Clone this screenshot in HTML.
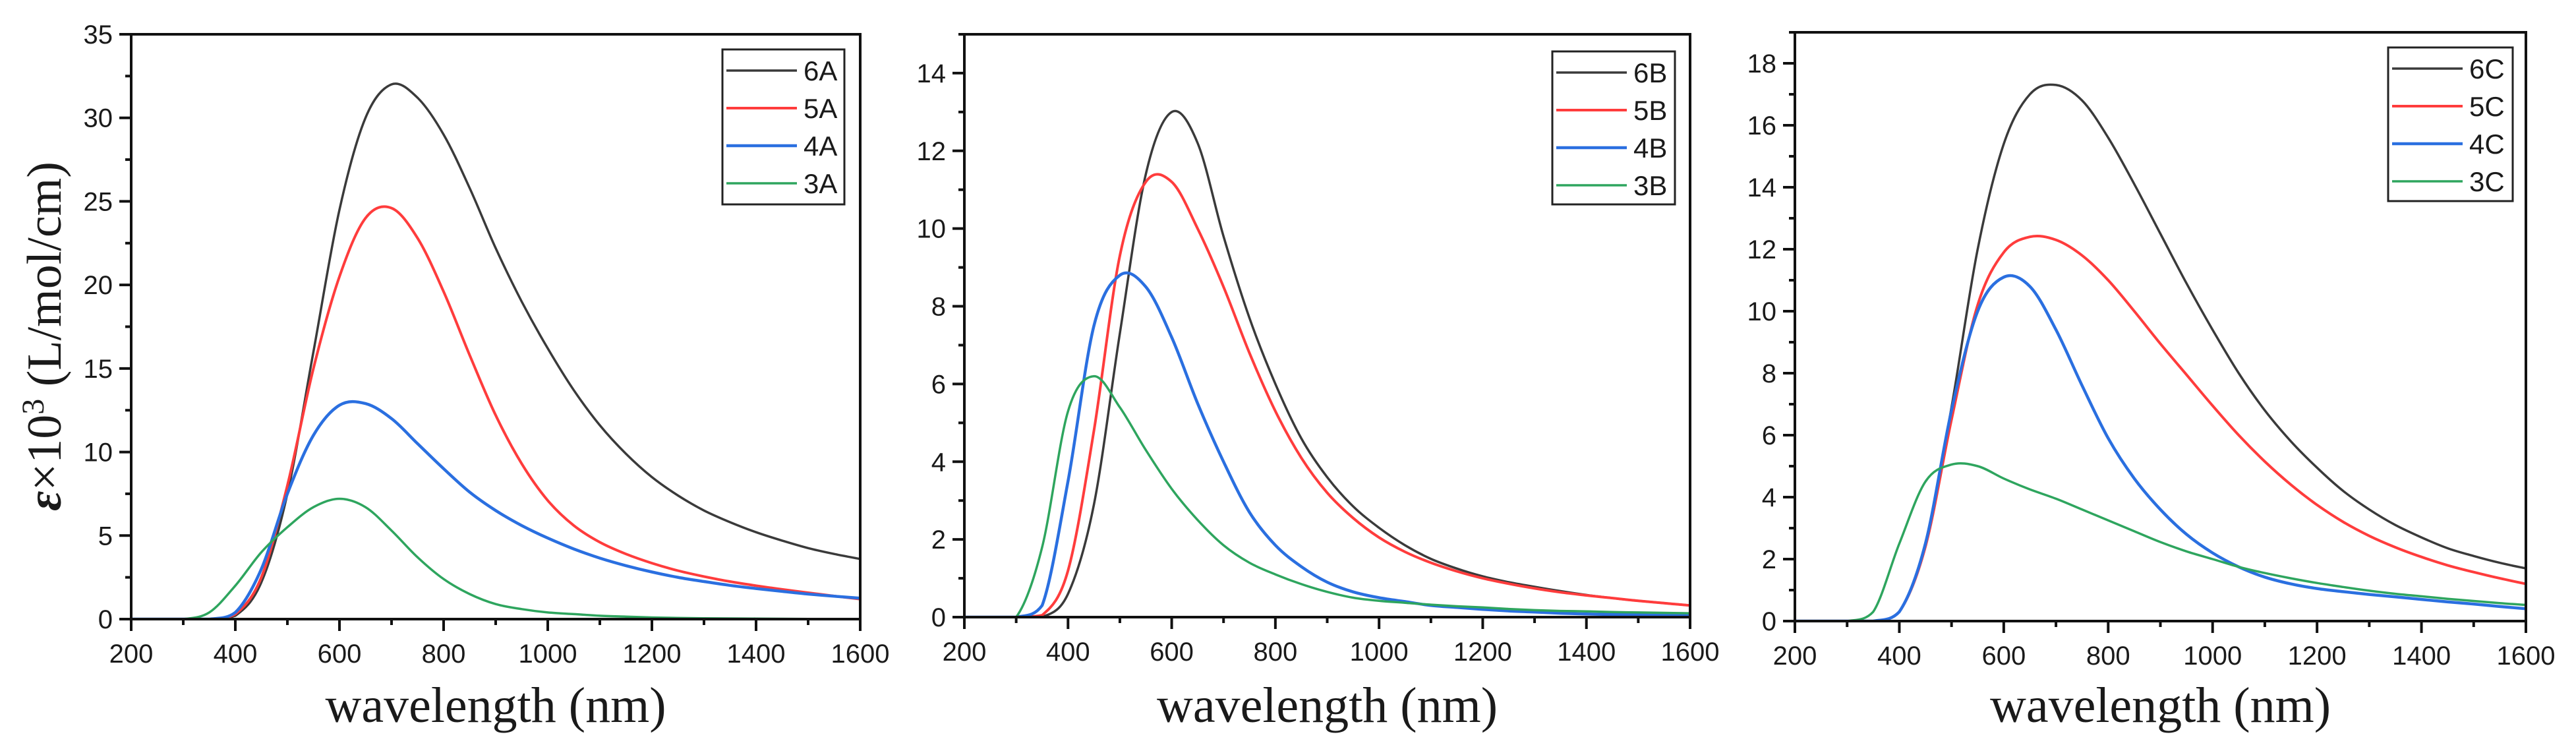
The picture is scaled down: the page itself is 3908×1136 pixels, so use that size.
<!DOCTYPE html>
<html><head><meta charset="utf-8"><style>
html,body{margin:0;padding:0;background:#fff;}
svg{display:block;}
text{font-family:"Liberation Sans",sans-serif;fill:#1a1a1a;}
.serif{font-family:"Liberation Serif",serif;}
</style></head><body>
<svg id="chart" width="3908" height="1136" viewBox="0 0 3908 1136" xmlns="http://www.w3.org/2000/svg">
<text class="serif" transform="translate(92,510) rotate(-90)" text-anchor="middle" font-size="74"><tspan font-style="italic" font-weight="bold">ε</tspan>×10<tspan dy="-26" font-size="48">3</tspan><tspan dy="26"> (L/mol/cm)</tspan></text>
</svg>
<script>
const wavelengths = [200,250,300,350,400,450,500,550,600,650,700,750,800,850,900,950,1000,1050,1100,1150,1200,1250,1300,1350,1400,1450,1500,1550,1600];
const xTicks = [200,400,600,800,1000,1200,1400,1600];
const seriesNames = ['6','5','4','3'];
const colors = ['#3a3a3a','#ff3c3c','#2a6fe0','#2ea55e'];
const widths = [3.5,4,4.5,3.5];
// Panel A
const a6 = [0,0,0,0,0.2,2.2,7.5,16,24.5,30,32,31.2,29,25.8,22.2,19,16.2,13.7,11.6,9.9,8.5,7.4,6.5,5.8,5.2,4.7,4.25,3.9,3.6];
const a5 = [0,0,0,0,0.3,2.5,8,15,20.5,24,24.6,22.8,19.6,15.8,12.2,9.3,7.1,5.6,4.6,3.9,3.35,2.9,2.55,2.25,2.0,1.78,1.58,1.38,1.2];
const a4 = [0,0,0,0,0.4,3,7.5,11,12.8,12.9,12,10.5,9,7.6,6.5,5.6,4.85,4.2,3.65,3.2,2.82,2.5,2.25,2.02,1.83,1.66,1.5,1.37,1.25];
const a3 = [0,0,0,0.4,2,4,5.5,6.7,7.2,6.7,5.3,3.7,2.4,1.5,0.9,0.6,0.4,0.3,0.2,0.15,0.1,0.07,0.05,0.04,0.03,0.02,0.01,0.01,0];
const aTicks = [0,5,10,15,20,25,30,35];
// Panel B
const b6 = [0,0,0,0,0.6,2.9,7.3,11.4,13,12.2,9.8,7.7,6.0,4.6,3.6,2.85,2.3,1.85,1.5,1.25,1.05,0.9,0.78,0.67,0.57,0.49,0.42,0.36,0.3];
const b5 = [0,0,0,0.05,1.2,4.8,9.3,11.2,11.2,10,8.5,6.8,5.3,4.1,3.2,2.55,2.05,1.68,1.4,1.18,1.0,0.86,0.74,0.64,0.56,0.49,0.42,0.36,0.3];
const b4 = [0,0,0,0.3,3.5,7.5,8.8,8.5,7.2,5.5,4.0,2.7,1.85,1.3,0.9,0.65,0.5,0.4,0.3,0.25,0.2,0.16,0.13,0.1,0.08,0.07,0.06,0.05,0.05];
const b3 = [0,0,0,1.8,5.3,6.2,5.4,4.3,3.3,2.5,1.85,1.4,1.1,0.85,0.65,0.5,0.42,0.37,0.32,0.28,0.25,0.21,0.18,0.16,0.15,0.13,0.12,0.11,0.1];
const bTicks = [0,2,4,6,8,10,12,14];
// Panel C
const c6 = [0,0,0,0,0.3,2.5,6.9,12,15.4,17,17.3,16.8,15.6,14.1,12.5,10.9,9.4,8.0,6.8,5.8,4.95,4.2,3.6,3.1,2.7,2.35,2.1,1.88,1.7];
const c5 = [0,0,0,0,0.3,2.4,6.5,10.2,11.9,12.4,12.3,11.8,11.0,10.0,8.95,7.95,6.95,6.0,5.15,4.4,3.75,3.2,2.75,2.38,2.07,1.8,1.58,1.38,1.2];
const c4 = [0,0,0,0,0.3,2.5,6.8,10,11.1,10.8,9.4,7.6,5.9,4.6,3.6,2.8,2.2,1.75,1.42,1.2,1.05,0.95,0.86,0.78,0.7,0.62,0.55,0.47,0.4];
const c3 = [0,0,0,0.3,2.5,4.5,5.05,5.0,4.6,4.25,3.95,3.6,3.25,2.9,2.55,2.25,2.0,1.75,1.55,1.38,1.23,1.1,0.98,0.88,0.8,0.72,0.65,0.58,0.52];
const cTicks = [0,2,4,6,8,10,12,14,16,18];

const panels = [
 {id:'a', suffix:'A', series:[a6,a5,a4,a3], ticks:aTicks, ymax:35, minor:2.5, L:199, R:1305, T:52, B:939, leg:{x:1096,y:75,w:185,h:235}},
 {id:'b', suffix:'B', series:[b6,b5,b4,b3], ticks:bTicks, ymax:15, minor:1, L:1463, R:2564, T:52, B:936, leg:{x:2355,y:78,w:186,h:232}},
 {id:'c', suffix:'C', series:[c6,c5,c4,c3], ticks:cTicks, ymax:19, minor:1, L:2723, R:3832, T:49, B:942, leg:{x:3623,y:72,w:189,h:233}}
];
const NS='http://www.w3.org/2000/svg';
const svg=document.getElementById('chart');
function mk(tag,attrs,parent){const e=document.createElementNS(NS,tag);for(const k in attrs)e.setAttribute(k,attrs[k]);(parent||svg).appendChild(e);return e;}

panels.forEach(p=>{
  const g=mk('g',{});
  
  
  const xs=v=>p.L+(v-200)/1400*(p.R-p.L);
  const ys=v=>p.B-v/p.ymax*(p.B-p.T);
  const cp=mk('clipPath',{id:'clip-'+p.id},g);
  mk('rect',{x:p.L,y:p.T,width:p.R-p.L,height:p.B-p.T},cp);
  p.series.forEach((vals,si)=>{
    const pts=wavelengths.map((w,i)=>[xs(w),ys(vals[i])]);
    let d='M'+pts[0][0].toFixed(1)+','+pts[0][1].toFixed(1);
    for(let i=0;i<pts.length-1;i++){
      const p0=pts[Math.max(0,i-1)],p1=pts[i],p2=pts[i+1],p3=pts[Math.min(pts.length-1,i+2)];
      let c1y=p1[1]+(p2[1]-p0[1])/6, c2y=p2[1]-(p3[1]-p1[1])/6;
      c1y=Math.min(c1y,p.B); c2y=Math.min(c2y,p.B);
      const c1=[p1[0]+(p2[0]-p0[0])/6,c1y];
      const c2=[p2[0]-(p3[0]-p1[0])/6,c2y];
      d+=' C'+c1[0].toFixed(1)+','+c1[1].toFixed(1)+' '+c2[0].toFixed(1)+','+c2[1].toFixed(1)+' '+p2[0].toFixed(1)+','+p2[1].toFixed(1);
    }
    const path=mk('path',{d:d,fill:'none',stroke:colors[si],'stroke-width':widths[si],'clip-path':'url(#clip-'+p.id+')','stroke-linejoin':'round'},g);
    
    
  });
  const fr=mk('rect',{x:p.L,y:p.T,width:p.R-p.L,height:p.B-p.T,fill:'none',stroke:'#111','stroke-width':4},g);
  
  
  for(let w=200;w<=1600;w+=100){
    const major=(w%200===0);
    mk('line',{x1:xs(w),x2:xs(w),y1:p.B,y2:p.B+(major?18:9),stroke:'#111','stroke-width':4},g);
  }
  xTicks.forEach(w=>{
    const t=mk('text',{x:xs(w),y:p.B+66,'text-anchor':'middle','font-size':40},g);
    t.textContent=w;
    
    
  });
  for(let v=0;v<=p.ymax+1e-6;v+=p.minor){
    const major=p.ticks.some(t=>Math.abs(t-v)<1e-6);
    mk('line',{x1:p.L,x2:p.L-(major?18:9),y1:ys(v),y2:ys(v),stroke:'#111','stroke-width':4},g);
  }
  p.ticks.forEach(v=>{
    const t=mk('text',{x:p.L-28,y:ys(v)+14,'text-anchor':'end','font-size':40},g);
    t.textContent=v;
    
    
  });
  const xt=mk('text',{x:(p.L+p.R)/2,y:1095,'text-anchor':'middle','font-size':76,class:'serif'},g);
  xt.textContent='wavelength (nm)';
  
  
  const lg=mk('g',{},g);
  
  
  mk('rect',{x:p.leg.x,y:p.leg.y,width:p.leg.w,height:p.leg.h,fill:'#fff',stroke:'#222','stroke-width':3},lg);
  seriesNames.forEach((n,i)=>{
    const yy=p.leg.y+32+i*57;
    const e=mk('g',{},lg);
    
    
    mk('line',{x1:p.leg.x+6,x2:p.leg.x+113,y1:yy,y2:yy,stroke:colors[i],'stroke-width':widths[i]},e);
    const t=mk('text',{x:p.leg.x+123,y:yy+15,'font-size':42},e);
    t.textContent=n+p.suffix;
  });
});
</script>
</body></html>
